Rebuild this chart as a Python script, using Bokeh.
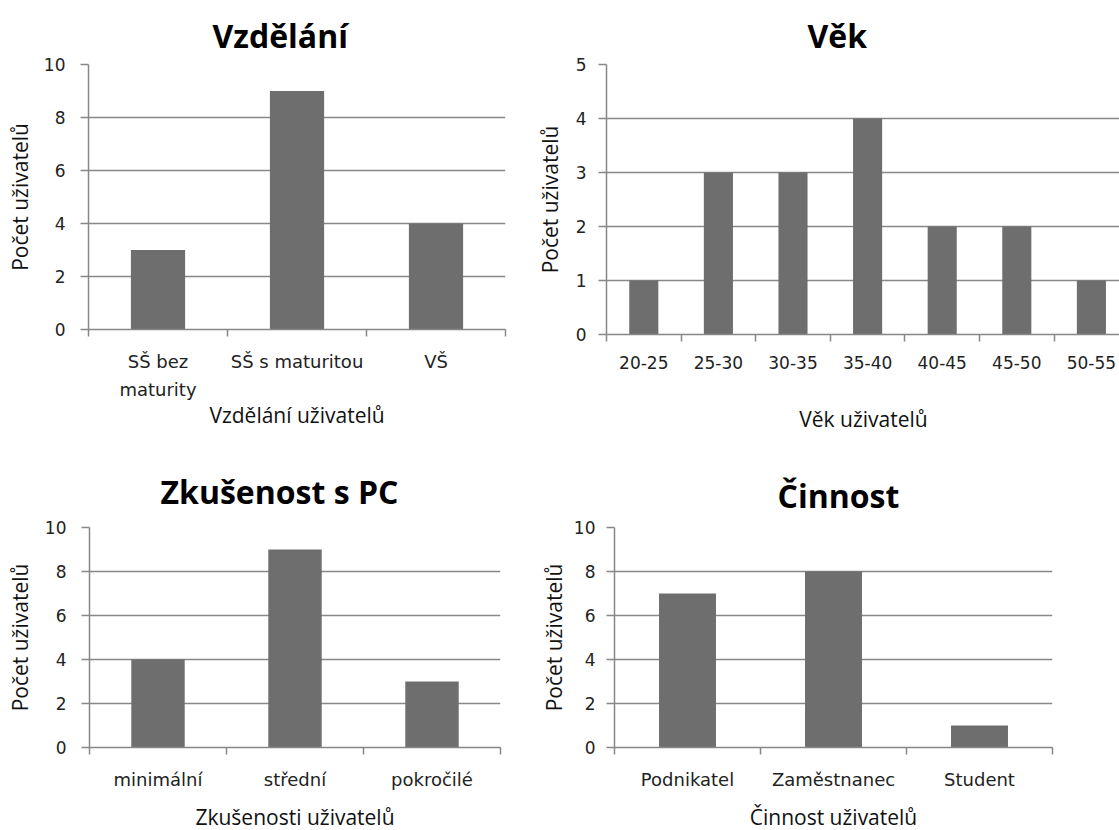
from bokeh.plotting import figure
from bokeh.layouts import column, row
from bokeh.models import Range1d, FixedTicker, ColumnDataSource
from bokeh.embed import file_html
from bokeh.resources import INLINE

# ---- data ----
edu_cats = ["SŠ bez maturity", "SŠ s maturitou", "VŠ"]
edu_labels = ["SŠ bez\nmaturity", "SŠ s maturitou", "VŠ"]
edu_vals = [3, 9, 4]

age_cats = ["20-25", "25-30", "30-35", "35-40", "40-45", "45-50", "50-55"]
age_labels = age_cats
age_vals = [1, 3, 3, 4, 2, 2, 1]

pc_cats = ["minimální", "střední", "pokročilé"]
pc_labels = pc_cats
pc_vals = [4, 9, 3]

job_cats = ["Podnikatel", "Zaměstnanec", "Student"]
job_labels = job_cats
job_vals = [7, 8, 1]

y_ticks_10 = [0, 2, 4, 6, 8, 10]
y_ticks_5 = [0, 1, 2, 3, 4, 5]

titles = ["Vzdělání", "Věk", "Zkušenost s PC", "Činnost"]
x_titles = ["Vzdělání uživatelů", "Věk uživatelů", "Zkušenosti uživatelů", "Činnost uživatelů"]
y_title = "Počet uživatelů"

GRAY = "#878787"
BAR = "#6e6e6e"
TICK_FONT = "DejaVu Sans"
LABEL_FONT = "Open Sans"


def make_chart(title, cats, labels, vals, yticks, xtitle,
               fig_w, fig_h, left, top, fw, fh, x_end,
               title_offset, title_standoff, xtitle_standoff,
               ytick_standoff, ytitle_standoff):
    n = len(cats)
    centers = [i + 0.5 for i in range(n)]
    src = ColumnDataSource(dict(x=centers, top=vals, cat=cats))
    p = figure(output_backend="svg", toolbar_location=None, title=title,
               frame_width=fw, frame_height=fh,
               min_border_left=left, min_border_top=top,
               min_border_right=fig_w - left - fw,
               min_border_bottom=fig_h - top - fh,
               x_range=Range1d(0, x_end), y_range=Range1d(0, yticks[-1]))
    p.outline_line_color = None
    p.background_fill_color = "white"
    p.border_fill_color = "white"

    p.title.align = "left"
    p.title.offset = title_offset
    p.title.standoff = title_standoff
    p.title.text_font = LABEL_FONT
    p.title.text_font_style = "bold"
    p.title.text_font_size = "32px"
    p.title.text_color = "#000000"

    p.vbar(x="x", top="top", width=0.39, bottom=0, source=src,
           fill_color=BAR, line_color=None)

    # x axis: labels centred on categories, ticks between categories
    xa = p.xaxis[0]
    xa.ticker = FixedTicker(ticks=centers, minor_ticks=list(range(n + 1)))
    xa.major_label_overrides = {c: l for c, l in zip(centers, labels)}
    xa.major_tick_line_color = None
    xa.major_tick_out = 7
    xa.major_tick_in = 0
    xa.minor_tick_line_color = GRAY
    xa.minor_tick_out = 7
    xa.minor_tick_in = 0
    xa.axis_line_color = GRAY
    xa.axis_line_width = 1.5
    xa.minor_tick_line_width = 1.5
    xa.major_label_text_font = TICK_FONT
    xa.major_label_text_font_size = "18px" if n == 3 else "17px"
    xa.major_label_text_color = "#222222"
    xa.major_label_text_line_height = 1.34
    xa.major_label_standoff = 14
    xa.axis_label = xtitle
    xa.axis_label_text_font = LABEL_FONT
    xa.axis_label_text_font_size = "21px"
    xa.axis_label_text_font_style = "normal"
    xa.axis_label_text_color = "#111111"
    xa.axis_label_standoff = xtitle_standoff

    ya = p.yaxis[0]
    ya.ticker = FixedTicker(ticks=yticks, minor_ticks=[])
    ya.major_tick_out = 8
    ya.major_tick_in = 0
    ya.major_tick_line_color = GRAY
    ya.major_tick_line_width = 1.5
    ya.axis_line_color = GRAY
    ya.axis_line_width = 1.5
    ya.major_label_text_font = TICK_FONT
    ya.major_label_text_font_size = "17px"
    ya.major_label_text_color = "#222222"
    ya.major_label_standoff = ytick_standoff
    ya.axis_label = y_title
    ya.axis_label_text_font = LABEL_FONT
    ya.axis_label_text_font_size = "21px"
    ya.axis_label_text_font_style = "normal"
    ya.axis_label_text_color = "#111111"
    ya.axis_label_standoff = ytitle_standoff

    p.xgrid.visible = False
    p.ygrid.ticker = FixedTicker(ticks=yticks, minor_ticks=[])
    p.ygrid.grid_line_color = GRAY
    p.ygrid.grid_line_width = 1.5
    return p


p1 = make_chart(titles[0], edu_cats, edu_labels, edu_vals, y_ticks_10, x_titles[0],
                532, 440, 88, 61, 417, 265, 3, 124, 16, -2, 15, 7)
p2 = make_chart(titles[1], age_cats, age_labels, age_vals, y_ticks_5, x_titles[1],
                587, 440, 73, 64, 514, 270, 514 / 74.6, 201, 16, 33, 12, 9)
p3 = make_chart(titles[2], pc_cats, pc_labels, pc_vals, y_ticks_10, x_titles[2],
                536, 390, 89, 87, 411, 220, 3, 71, 30, 10, 15, 8)
p4 = make_chart(titles[3], job_cats, job_labels, job_vals, y_ticks_10, x_titles[3],
                583, 390, 77, 87, 438, 220, 3, 163, 22, 10, 11, 3)

layout = column(row(p1, p2), row(p3, p4))
open("out.html", "w").write(file_html(layout, INLINE))
